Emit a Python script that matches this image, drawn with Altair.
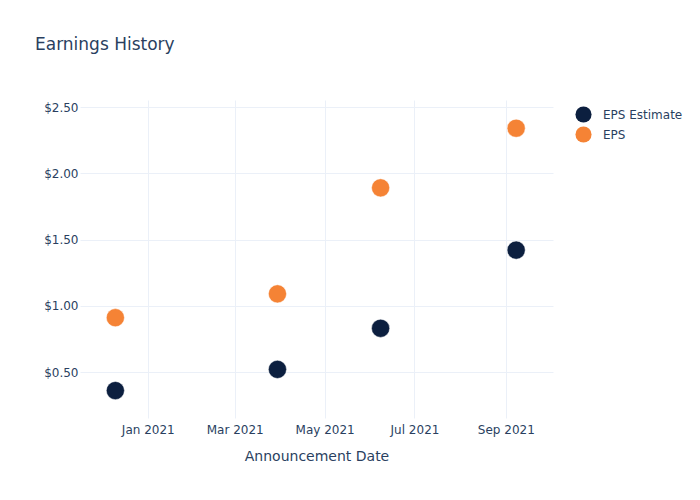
import altair as alt
import pandas as pd

dates = ["2020-12-10", "2021-03-30", "2021-06-08", "2021-09-08"]
eps_estimate = [0.36, 0.52, 0.83, 1.42]
eps_actual = [0.91, 1.09, 1.89, 2.34]
series_names = ["EPS Estimate", "EPS"]
series_colors = ["#0c1f3f", "#f58335"]
x_tick_dates = ["2021-01-01", "2021-03-01", "2021-05-01", "2021-07-01", "2021-09-01"]
y_ticks = [0.5, 1.0, 1.5, 2.0, 2.5]

rows = []
for d, v in zip(dates, eps_estimate):
    rows.append({"date": d, "value": v, "series": "EPS Estimate"})
for d, v in zip(dates, eps_actual):
    rows.append({"date": d, "value": v, "series": "EPS"})
df = pd.DataFrame(rows)

text_color = "#2a3f5f"
grid_color = "#ebf0f8"
font = "DejaVu Sans"

def dt(s):
    y, m, d = [int(p) for p in s.split("-")]
    return alt.DateTime(year=y, month=m, date=d, utc=True)

chart = alt.Chart(df).mark_circle(size=330, opacity=1, stroke="white", strokeWidth=0.5).encode(
    x=alt.X(
        "date:T",
        title="Announcement Date",
        scale=alt.Scale(type="utc", domain=[dt("2020-11-16"), dt("2021-10-03")], nice=False),
        axis=alt.Axis(
            values=[dt(s) for s in x_tick_dates],
            labelExpr="utcFormat(datum.value, '%b %Y')",
            domain=False,
            ticks=False,
            labelPadding=6,
            titlePadding=14,
        ),
    ),
    y=alt.Y(
        "value:Q",
        title=None,
        scale=alt.Scale(domain=[0.153, 2.553], nice=False, zero=False),
        axis=alt.Axis(values=y_ticks, format="$.2f", domain=False, ticks=False, labelPadding=2),
    ),
    color=alt.Color(
        "series:N",
        scale=alt.Scale(domain=series_names, range=series_colors),
        legend=alt.Legend(
            title=None,
            orient="none",
            legendX=495,
            legendY=6,
            symbolType="circle",
            symbolSize=260,
            symbolStrokeWidth=0,
            labelFontSize=12,
            labelColor=text_color,
            labelFont=font,
            rowPadding=3,
            labelOffset=11,
        ),
    ),
).properties(
    width=473,
    height=318,
    background="white",
    title=alt.TitleParams(
        "Earnings History",
        anchor="start",
        frame="group",
        dx=-45,
        dy=-42,
        fontSize=17,
        fontWeight="normal",
        color=text_color,
        font=font,
    ),
    autosize=alt.AutoSizeParams(type="none"),
    padding={"left": 80, "top": 100, "right": 147, "bottom": 82},
).configure_view(
    stroke=None
).configure_axis(
    gridColor=grid_color,
    gridWidth=1,
    labelColor=text_color,
    labelFontSize=12,
    labelFont=font,
    titleColor=text_color,
    titleFontSize=14,
    titleFont=font,
    titleFontWeight="normal",
)

chart.save("out.html", embed_options={"renderer": "svg", "actions": False})
